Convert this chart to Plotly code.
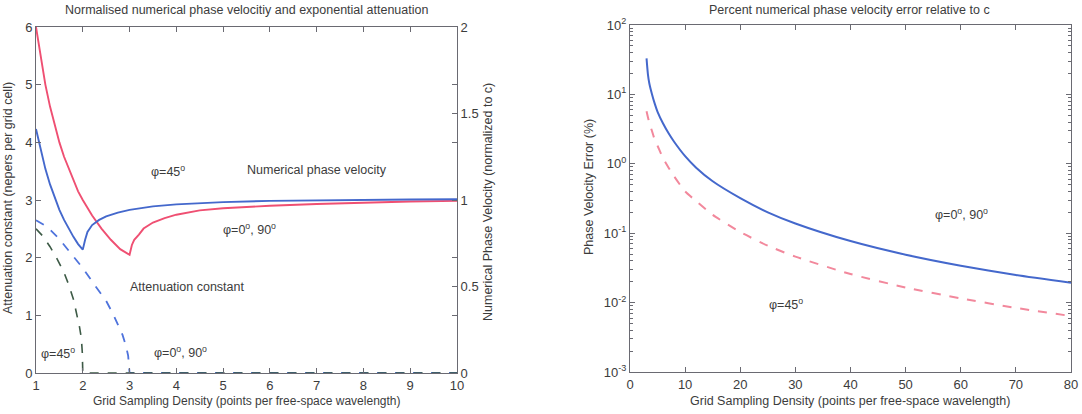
import plotly.graph_objects as go

W, H = 1082, 414

# ---------------- Left panel data ----------------
# Normalised numerical phase velocity (right axis, normalized to c)
vel_phi0_x = [1, 1.1, 1.2, 1.3, 1.4, 1.5, 1.6, 1.7, 1.8, 1.9, 2.0, 2.2, 2.4, 2.6, 2.8, 3.0,
              3.05, 3.1, 3.2, 3.3, 3.5, 3.75, 4.0, 4.5, 5, 5.5, 6, 7, 8, 9, 10]
vel_phi0_y = [2.0, 1.82, 1.667, 1.54, 1.43, 1.333, 1.25, 1.18, 1.11, 1.05, 1.0, 0.91, 0.835, 0.77,
              0.716, 0.683, 0.74, 0.77, 0.80, 0.835, 0.87, 0.895, 0.915, 0.94, 0.952, 0.96,
              0.967, 0.977, 0.985, 0.991, 0.995]

vel_phi45_x = [1, 1.1, 1.2, 1.3, 1.4, 1.5, 1.6, 1.7, 1.8, 1.9, 2.0, 2.05, 2.1, 2.2, 2.35, 2.5,
               2.75, 3.0, 3.5, 4, 4.5, 5, 6, 7, 8, 9, 10]
vel_phi45_y = [1.41, 1.285, 1.18, 1.09, 1.01, 0.943, 0.885, 0.833, 0.787, 0.745, 0.713, 0.77,
               0.815, 0.855, 0.885, 0.905, 0.927, 0.943, 0.963, 0.975, 0.983, 0.988, 0.995,
               0.999, 1.002, 1.003, 1.004]

# Attenuation constant (left axis, nepers per grid cell)
att_phi0_x = [1, 1.25, 1.5, 1.75, 2.0, 2.25, 2.5, 2.65, 2.75, 2.85, 2.92, 2.97, 3.0, 10]
att_phi0_y = [2.65, 2.53, 2.32, 2.07, 1.82, 1.53, 1.25, 1.02, 0.85, 0.66, 0.48, 0.3, 0.0, 0.0]

att_phi45_x = [1, 1.15, 1.3, 1.45, 1.6, 1.7, 1.8, 1.87, 1.93, 1.97, 1.99, 2.0, 10]
att_phi45_y = [2.5, 2.37, 2.19, 1.98, 1.74, 1.53, 1.28, 1.05, 0.8, 0.6, 0.35, 0.0, 0.0]

# ---------------- Right panel data ----------------
err_x = [3, 3.25, 3.5, 4, 4.5, 5, 6, 7, 8, 10, 12, 15, 20, 25, 30, 40, 50, 60, 70, 80]
err_phi0 = [33, 19.5, 14.5, 10, 7.3, 5.6, 3.8, 2.75, 2.08, 1.29, 0.88, 0.56, 0.32, 0.2,
            0.138, 0.077, 0.049, 0.034, 0.025, 0.0193]
err_phi45 = [5.7, 4.7, 3.9, 2.95, 2.2, 1.82, 1.2, 0.88, 0.66, 0.40, 0.29, 0.184, 0.104,
             0.066, 0.046, 0.0258, 0.0165, 0.0115, 0.0084, 0.0064]

# tick labels
left_xticks = [1, 2, 3, 4, 5, 6, 7, 8, 9, 10]
left_yticks = [0, 1, 2, 3, 4, 5, 6]
right_vel_ticks = [0, 0.5, 1, 1.5, 2]
err_xticks = [0, 10, 20, 30, 40, 50, 60, 70, 80]
err_yticks = [1e-3, 1e-2, 1e-1, 1e0, 1e1, 1e2]
err_yticktext = ["10<sup>-3</sup>", "10<sup>-2</sup>", "10<sup>-1</sup>", "10<sup>0</sup>",
                 "10<sup>1</sup>", "10<sup>2</sup>"]

FONT = "Liberation Sans, Arial, Helvetica, sans-serif"
TXT = "#3c3c3c"
AX = "#6a6a72"

RED = "#ef4f72"
BLUE = "#4468cc"
LBLUE = "#4f73dc"
GREEN = "#3d5a46"
PINK = "#f2889c"

fig = go.Figure()

# Left panel
fig.add_trace(go.Scatter(x=att_phi0_x, y=att_phi0_y, mode="lines", xaxis="x", yaxis="y",
                         line=dict(color=LBLUE, width=1.8, dash="dash"), showlegend=False))
fig.add_trace(go.Scatter(x=att_phi45_x, y=att_phi45_y, mode="lines", xaxis="x", yaxis="y",
                         line=dict(color=GREEN, width=1.6, dash="dash"), showlegend=False))
fig.add_trace(go.Scatter(x=vel_phi0_x, y=vel_phi0_y, mode="lines", xaxis="x", yaxis="y2",
                         line=dict(color=RED, width=1.9), showlegend=False))
fig.add_trace(go.Scatter(x=vel_phi45_x, y=vel_phi45_y, mode="lines", xaxis="x", yaxis="y2",
                         line=dict(color=BLUE, width=1.9), showlegend=False))

# Right panel
fig.add_trace(go.Scatter(x=err_x, y=err_phi45, mode="lines", xaxis="x2", yaxis="y3",
                         line=dict(color=PINK, width=2, dash="dash", shape="spline",
                                   smoothing=0.6), showlegend=False))
fig.add_trace(go.Scatter(x=err_x, y=err_phi0, mode="lines", xaxis="x2", yaxis="y3",
                         line=dict(color=BLUE, width=2, shape="spline", smoothing=0.6),
                         showlegend=False))


def fx(xp):
    return xp / W


def fy(yp):
    return 1 - yp / H


L0, L1 = fx(36), fx(457)
R0, R1 = fx(630), fx(1071)
B0, B1 = fy(373), fy(27)
RB0, RB1 = fy(372), fy(25)

common_tick = dict(ticks="inside", ticklen=5, tickcolor=AX, showline=True, linecolor=AX,
                   linewidth=1, showgrid=False, zeroline=False,
                   tickfont=dict(family=FONT, size=13, color=TXT))

fig.update_layout(
    width=W, height=H,
    margin=dict(l=0, r=0, t=0, b=0),
    paper_bgcolor="white", plot_bgcolor="white",
    font=dict(family=FONT, color=TXT),
    xaxis=dict(domain=[L0, L1], range=[1, 10], tickvals=left_xticks, mirror="ticks",
               anchor="y", automargin=False, **common_tick),
    yaxis=dict(domain=[B0, B1], range=[0, 6], tickvals=left_yticks, mirror="ticks",
               anchor="x", automargin=False, **common_tick),
    yaxis2=dict(overlaying="y", side="right", range=[0, 2], tickvals=right_vel_ticks,
                anchor="x", automargin=False, **common_tick),
    xaxis2=dict(domain=[R0, R1], range=[0, 80], tickvals=err_xticks, mirror="ticks",
                anchor="y3", automargin=False, **common_tick),
    yaxis3=dict(domain=[RB0, RB1], type="log", range=[-3, 2], tickvals=err_yticks,
                ticktext=err_yticktext, mirror="ticks", anchor="x2", automargin=False,
                minor=dict(ticks="inside", ticklen=3, tickcolor=AX, dtick="D1"),
                **common_tick),
)


def px(xp, yp, text, size=12.5, angle=0, **kw):
    fig.add_annotation(x=fx(xp), y=fy(yp), xref="paper", yref="paper", text=text,
                       showarrow=False, textangle=angle,
                       font=dict(family=FONT, size=size, color=TXT),
                       xanchor="center", yanchor="middle", **kw)


# Titles
px(246, 10, "Normalised numerical phase velocitiy and exponential attenuation")
px(849, 10, "Percent numerical phase velocity error relative to c")
# Axis titles
px(246, 401, "Grid Sampling Density (points per free-space wavelength)", size=12)
px(850, 401, "Grid Sampling Density (points per free-space wavelength)", size=12.5)
px(8, 198, "Attenuation constant (nepers per grid cell)", size=12.5, angle=-90)
px(488, 202, "Numerical Phase Velocity (normalized to c)", size=12.5, angle=-90)
px(589, 187, "Phase Velocity Error (%)", size=12.5, angle=-90)

# In-plot labels, left
px(168, 171, "φ=45<sup>o</sup>")
px(317, 170, "Numerical phase velocity")
px(249, 229, "φ=0<sup>o</sup>, 90<sup>o</sup>")
px(187, 287, "Attenuation constant")
px(58, 353, "φ=45<sup>o</sup>")
px(180, 352, "φ=0<sup>o</sup>, 90<sup>o</sup>")
# In-plot labels, right
px(961, 214, "φ=0<sup>o</sup>, 90<sup>o</sup>")
px(786, 304, "φ=45<sup>o</sup>")

fig.write_html(
    "out.html",
    config={"displayModeBar": False},
    post_script="document.body.style.margin='0';document.body.style.overflow='hidden';",
)
